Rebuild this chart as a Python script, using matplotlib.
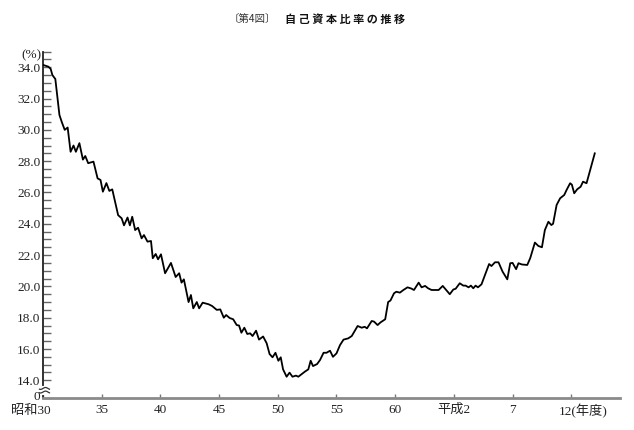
import numpy as np
import matplotlib.pyplot as plt
import matplotlib.transforms as mtransforms

plt.rcParams['font.family'] = ['Liberation Serif', 'Noto Sans CJK JP']

# fiscal-year position (昭和30 = 1955) and equity ratio (%)
year_pos = [
    1955.0, 1955.45, 1955.65, 1955.8, 1956.05, 1956.4, 1956.6, 1956.85, 1957.1, 1957.35,
    1957.6, 1957.8, 1958.1, 1958.4, 1958.6, 1958.85, 1959.3, 1959.65, 1959.9, 1960.1,
    1960.4, 1960.65, 1960.9, 1961.4, 1961.7, 1961.9, 1962.2, 1962.4, 1962.6, 1962.85,
    1963.1, 1963.4, 1963.6, 1963.9, 1964.2, 1964.35, 1964.6, 1964.8, 1965.05, 1965.4,
    1965.9, 1966.3, 1966.6, 1966.8, 1967.0, 1967.4, 1967.6, 1967.8, 1968.1, 1968.3,
    1968.6, 1969.1, 1969.4, 1969.8, 1970.1, 1970.4, 1970.6, 1970.9, 1971.2, 1971.5,
    1971.7, 1971.9, 1972.15, 1972.4, 1972.65, 1972.85, 1973.15, 1973.4, 1973.75, 1974.05,
    1974.3, 1974.55, 1974.8, 1975.05, 1975.25, 1975.45, 1975.75, 1976.0, 1976.25, 1976.55,
    1976.75, 1977.05, 1977.3, 1977.6, 1977.8, 1978.0, 1978.35, 1978.6, 1978.9, 1979.15,
    1979.45, 1979.7, 1980.0, 1980.3, 1980.6, 1981.0, 1981.3, 1981.8, 1982.15, 1982.4,
    1982.6, 1983.0, 1983.2, 1983.5, 1983.75, 1984.15, 1984.4, 1984.6, 1984.9, 1985.1,
    1985.4, 1985.7, 1986.05, 1986.35, 1986.6, 1987.0, 1987.25, 1987.55, 1987.8, 1988.1,
    1988.7, 1989.05, 1989.35, 1989.65, 1989.95, 1990.15, 1990.5, 1990.8, 1991.0, 1991.25,
    1991.45, 1991.65, 1991.85, 1992.05, 1992.35, 1992.65, 1993.0, 1993.2, 1993.5, 1993.8,
    1994.15, 1994.55, 1994.8, 1995.0, 1995.3, 1995.5, 1995.8, 1996.25, 1996.5, 1996.9,
    1997.2, 1997.5, 1997.75, 1998.05, 1998.3, 1998.45, 1998.75, 1999.05, 1999.4, 1999.6,
    1999.9, 2000.05, 2000.25, 2000.5, 2000.8, 2001.0, 2001.3, 2002.0,
]
equity_ratio = [
    34.15, 34.04, 33.9, 33.5, 33.25, 30.95, 30.5, 30.0, 30.15, 28.6,
    29.0, 28.6, 29.15, 28.1, 28.33, 27.87, 27.97, 26.9, 26.8, 26.05,
    26.6, 26.1, 26.2, 24.55, 24.35, 23.9, 24.4, 23.9, 24.45, 23.6,
    23.75, 23.07, 23.28, 22.86, 22.9, 21.8, 22.07, 21.73, 22.05, 20.84,
    21.5, 20.6, 20.84, 20.24, 20.45, 19.0, 19.45, 18.6, 19.0, 18.6,
    18.96, 18.86, 18.75, 18.5, 18.53, 18.0, 18.17, 17.98, 17.9, 17.53,
    17.5, 17.04, 17.36, 16.96, 17.0, 16.83, 17.17, 16.6, 16.8, 16.37,
    15.68, 15.47, 15.76, 15.25, 15.47, 14.7, 14.23, 14.49, 14.23, 14.3,
    14.23, 14.4, 14.55, 14.7, 15.25, 14.91, 15.04, 15.3, 15.76, 15.76,
    15.89, 15.5, 15.72, 16.25, 16.6, 16.68, 16.83, 17.47, 17.36, 17.42,
    17.32, 17.79, 17.75, 17.53, 17.7, 17.9, 19.0, 19.1, 19.56, 19.66,
    19.6, 19.77, 19.94, 19.87, 19.77, 20.24, 19.94, 20.03, 19.88, 19.77,
    19.77, 20.03, 19.77, 19.5, 19.8, 19.85, 20.2, 20.05, 20.05, 19.94,
    20.05, 19.88, 20.05, 19.94, 20.13, 20.73, 21.43, 21.3, 21.54, 21.54,
    20.94, 20.45, 21.48, 21.5, 21.1, 21.48, 21.4, 21.37, 21.8, 22.8,
    22.58, 22.5, 23.6, 24.13, 23.92, 24.0, 25.2, 25.63, 25.84, 26.16,
    26.59, 26.5, 25.95, 26.2, 26.37, 26.69, 26.59, 28.5,
]

x_ticks = [1955, 1960, 1965, 1970, 1975, 1980, 1985, 1990, 1995, 2000]
x_labels = ['昭和30', '35', '40', '45', '50', '55', '60', '平成2', '7', '12(年度)']
y_major = [14, 16, 18, 20, 22, 24, 26, 28, 30, 32, 34]
y_zero = 12.87  # position where the broken axis shows 0

fig = plt.figure(figsize=(6.34, 4.30), dpi=100)
ax = fig.add_axes([43 / 634, 32 / 430, 577 / 634, 346.4 / 430])

ax.plot(year_pos, equity_ratio, color='black', lw=1.3, zorder=3)

ax.set_xlim(1955, 2004.15)
ax.set_ylim(y_zero, 35)

ax.spines['top'].set_visible(False)
ax.spines['right'].set_visible(False)
ax.spines['left'].set_color('#222222')
ax.spines['left'].set_linewidth(1.3)
ax.spines['bottom'].set_color('#8a8a8a')
ax.spines['bottom'].set_linewidth(2)

ax.set_yticks(y_major + [y_zero])
ax.set_yticklabels([f'{v:.1f}' for v in y_major] + ['0'])
ax.set_yticks(np.arange(14.5, 35.01, 0.5), minor=True)
ax.tick_params(axis='y', which='both', direction='in', length=6, width=1,
               color='#666666', labelsize=9.5, pad=2, labelcolor='#222222')

# lift the "0" label a little so it clears the x labels
zero_lbl = ax.get_yticklabels()[-1]
zero_lbl.set_transform(zero_lbl.get_transform()
                       + mtransforms.ScaledTranslation(0, 2 / 100, fig.dpi_scale_trans))

ax.set_xticks(x_ticks)
ax.set_xticklabels(x_labels)
ax.tick_params(axis='x', direction='in', length=3, width=1, color='#777777',
               labelsize=9.5, pad=4, labelcolor='#222222')

# shift first and last tick labels so the number sits on the tick
labels = ax.get_xticklabels()
labels[0].set_ha('right')
labels[0].set_transform(labels[0].get_transform()
                        + mtransforms.ScaledTranslation(8 / 100, -1 / 100, fig.dpi_scale_trans))
labels[-1].set_ha('left')
labels[-1].set_transform(labels[-1].get_transform()
                         + mtransforms.ScaledTranslation(-12 / 100, 0, fig.dpi_scale_trans))

# axis break marks between 0 and 14.0
ax.plot([1955, 1955], [13.22, 13.5], color='white', lw=3, clip_on=False, zorder=5)
bx = np.linspace(-0.3, 0.55, 30)
for base in (13.25, 13.48):
    ax.plot(1955 + bx, base + 0.06 * np.sin(bx / 0.85 * 2 * np.pi),
            color='#333333', lw=0.9, clip_on=False, zorder=6)

fig.text(31 / 634, 1 - 55 / 430, '(%)', ha='center', va='center', fontsize=9.5,
         color='#222222')

fig.text(252 / 634, 1 - 19 / 430, '〔第4図〕', ha='center', va='center', fontsize=7.5,
         family=['Noto Sans CJK JP'], color='#333333')
fig.text(345 / 634, 1 - 19 / 430, '自 己 資 本 比 率 の 推 移', ha='center', va='center',
         fontsize=8, fontweight='bold', family=['Noto Sans CJK JP'], color='#111111')

fig.savefig('out.png', dpi=100)
